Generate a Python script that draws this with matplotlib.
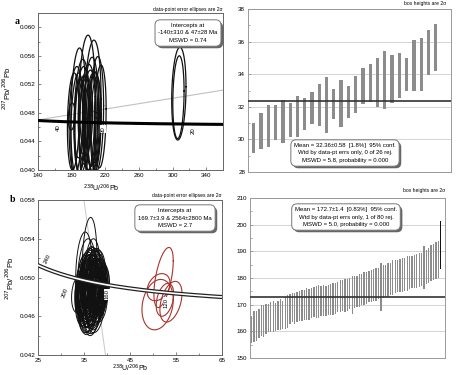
import numpy as np
import matplotlib
matplotlib.use("Agg")
import matplotlib.pyplot as plt
import matplotlib.patheffects as pe
from matplotlib.ticker import MultipleLocator, FormatStrFormatter

plt.rcParams['font.family'] = ['Liberation Sans', 'DejaVu Sans']

# ---- panel a: Tera-Wasserburg ellipses (238U/206Pb, 207Pb/206Pb, 2s half-axes)
a_x = [198, 205, 188, 210, 214, 192, 201, 185, 196, 207, 190, 203, 182, 180,
       199, 194, 209, 187, 204, 196, 193, 200, 189, 206, 307.5, 307]
a_y = [0.0488, 0.0485, 0.0480, 0.0478, 0.0475, 0.0475, 0.0470, 0.0470, 0.0468,
       0.0465, 0.0462, 0.0473, 0.0468, 0.0475, 0.0460, 0.0478, 0.0470, 0.0458,
       0.0470, 0.0482, 0.0465, 0.0475, 0.0472, 0.0468, 0.0507, 0.0502]
a_sx = [10, 10, 9, 8, 7, 9, 8, 8, 7, 8, 7, 9, 7, 4, 10, 6, 6, 8, 7, 6, 9, 5, 6, 7, 8.5, 6.7]
a_sy = [0.0101, 0.0097, 0.0091, 0.0081, 0.0072, 0.0080, 0.0070, 0.0075, 0.0060,
        0.0072, 0.0065, 0.0085, 0.0068, 0.0019, 0.0088, 0.0055, 0.0060, 0.0078,
        0.0065, 0.0050, 0.0080, 0.0045, 0.0055, 0.0070, 0.0065, 0.0058]
a_rho = 0.15
a_intercepts = [-140, 47]          # Ma
a_ticks_age = [40, 30, 20]
a_xticks = [140, 180, 220, 260, 300, 340]
a_yticks = [0.040, 0.044, 0.048, 0.052, 0.056, 0.060]

# ---- panel b
b_x = [36.2, 35.0, 35.6, 36.8, 37.5, 36.0, 35.3, 37.9, 36.6, 38.2,
       35.8, 37.1, 36.4, 34.8, 38.5, 37.3, 35.5, 36.9, 37.7, 36.1,
       35.2, 38.0, 36.7, 37.4, 35.9, 34.6, 38.7, 36.3, 37.0, 35.4,
       37.8, 36.5, 35.7, 38.3, 36.8, 37.2, 34.9, 36.0, 38.9, 37.6,
       35.1, 36.4, 37.9, 36.2, 35.6, 38.1, 37.0, 36.6, 35.3, 37.5,
       36.9, 34.4, 38.4, 36.1, 37.3, 35.8, 36.7, 38.6, 35.0, 37.1,
       33.6, 36.3, 37.7, 35.5, 38.0, 36.5, 37.4, 35.9, 36.8, 39.0]
b_y = [0.0515, 0.0505, 0.0500, 0.0505, 0.0498, 0.0492, 0.0488, 0.0500, 0.0495, 0.0490,
       0.0485, 0.0493, 0.0502, 0.0490, 0.0495, 0.0485, 0.0478, 0.0488, 0.0492, 0.0480,
       0.0495, 0.0485, 0.0482, 0.0500, 0.0475, 0.0485, 0.0488, 0.0495, 0.0478, 0.0482,
       0.0480, 0.0490, 0.0470, 0.0495, 0.0472, 0.0505, 0.0478, 0.0485, 0.0492, 0.0488,
       0.0492, 0.0475, 0.0478, 0.0498, 0.0490, 0.0482, 0.0485, 0.0468, 0.0480, 0.0492,
       0.0495, 0.0482, 0.0478, 0.0490, 0.0475, 0.0495, 0.0488, 0.0483, 0.0478, 0.0498,
       0.0482, 0.0480, 0.0488, 0.0465, 0.0500, 0.0485, 0.0470, 0.0493, 0.0480, 0.0490]
b_sx = [1.6, 1.8, 2.0, 1.7, 1.9, 2.2, 1.6, 1.8, 2.1, 1.7,
        1.9, 2.0, 1.5, 1.7, 1.6, 2.1, 1.9, 1.8, 2.0, 2.3,
        1.7, 1.9, 1.6, 1.8, 2.2, 1.5, 1.6, 2.0, 1.9, 1.7,
        1.8, 2.1, 1.6, 1.7, 2.0, 1.5, 1.8, 2.3, 1.6, 1.9,
        1.7, 2.0, 1.8, 1.6, 1.9, 1.7, 2.1, 1.8, 2.0, 1.6,
        1.9, 1.4, 1.7, 2.2, 1.8, 1.6, 2.0, 1.5, 1.7, 1.9,
        1.3, 2.1, 1.8, 1.7, 1.6, 1.9, 2.0, 1.8, 1.6, 1.5]
b_sy = [0.0047, 0.0042, 0.0040, 0.0035, 0.0032, 0.0038, 0.0030, 0.0028, 0.0036, 0.0025,
        0.0033, 0.0027, 0.0030, 0.0026, 0.0024, 0.0035, 0.0030, 0.0028, 0.0026, 0.0036,
        0.0030, 0.0025, 0.0032, 0.0027, 0.0034, 0.0024, 0.0022, 0.0029, 0.0031, 0.0028,
        0.0026, 0.0033, 0.0027, 0.0023, 0.0030, 0.0025, 0.0028, 0.0036, 0.0022, 0.0029,
        0.0031, 0.0027, 0.0025, 0.0030, 0.0033, 0.0024, 0.0030, 0.0028, 0.0026, 0.0027,
        0.0029, 0.0022, 0.0024, 0.0034, 0.0029, 0.0031, 0.0027, 0.0023, 0.0028, 0.0030,
        0.0018, 0.0032, 0.0026, 0.0022, 0.0024, 0.0030, 0.0027, 0.0025, 0.0029, 0.0022]
b_rho = 0.15
red_x = [52.3, 51.0, 51.2, 53.9, 52.6]
red_y = [0.0500, 0.0472, 0.0490, 0.0475, 0.0477]
red_sx = [2.1, 3.4, 2.5, 2.4, 1.9]
red_sy = [0.0031, 0.0026, 0.0014, 0.0021, 0.0017]
red_rho = [0.55, 0.2, 0.3, 0.4, 0.35]
b_intercepts = [169.7, 2564]
b_ticks_age = [240, 200, 160, 120]
b_xticks = [25, 35, 45, 55, 65]
b_yticks = [0.042, 0.046, 0.050, 0.054, 0.058]

# ---- weighted mean panels (2s boxes)
c_lo = [29.17, 29.40, 29.54, 29.99, 29.75, 30.16, 30.16, 30.57, 30.94, 30.81, 30.40, 31.24, 30.77,
        31.33, 31.59, 32.15, 32.27, 31.96, 31.84, 32.21, 32.56, 32.97, 32.97, 32.97, 33.93, 34.20]
c_hi = [31.02, 31.63, 32.11, 32.11, 32.41, 32.21, 32.66, 32.52, 32.89, 33.38, 33.81, 33.07, 33.65,
        33.28, 33.89, 34.39, 34.61, 35.00, 35.45, 35.15, 35.33, 34.98, 36.11, 36.23, 36.71, 37.08]
c_mean = 32.36

d_age = [160.6, 161.8, 162.1, 162.9, 164.1, 164.0, 164.6, 165.0, 165.3, 165.6,
         165.4, 166.0, 166.3, 166.2, 166.8, 167.6, 168.5, 168.9, 168.7, 169.2,
         169.4, 169.6, 169.9, 170.3, 170.1, 170.6, 170.9, 171.0, 171.2, 171.4,
         171.5, 171.4, 171.8, 172.0, 172.2, 172.3, 172.8, 173.2, 173.5, 173.4,
         173.8, 174.1, 173.6, 174.6, 175.0, 175.3, 175.6, 176.2, 176.4, 176.8,
         177.0, 177.3, 177.5, 178.0, 176.5, 178.6, 178.9, 179.2, 179.6, 180.2,
         180.5, 180.8, 181.0, 181.1, 181.3, 181.7, 181.9, 182.2, 182.4, 182.6,
         182.9, 183.3, 184.0, 184.2, 184.8, 185.6, 186.0, 186.5, 186.9, 192.5]
d_err = [5.0, 5.8, 5.6, 5.4, 5.7, 6.0, 5.5, 5.2, 5.6, 5.8,
         5.4, 5.5, 5.7, 5.2, 5.9, 6.2, 5.6, 5.5, 5.8, 5.6,
         5.7, 5.9, 5.5, 6.0, 5.8, 5.6, 5.7, 5.9, 6.1, 5.5,
         5.8, 5.6, 5.7, 5.9, 6.0, 5.8, 5.6, 5.9, 5.7, 6.2,
         6.0, 5.8, 7.2, 6.0, 5.9, 6.1, 5.8, 6.2, 6.0, 5.9,
         6.1, 6.0, 6.3, 5.9, 9.0, 6.2, 6.0, 6.3, 6.1, 6.4,
         6.2, 6.0, 6.3, 6.5, 6.1, 6.4, 6.2, 6.0, 6.3, 6.5,
         6.4, 6.2, 8.0, 6.3, 6.5, 6.6, 6.8, 6.9, 7.0, 9.0]
d_rejected = [79]
d_mean = 172.7

W, H = 458, 375
fig = plt.figure(figsize=(W / 100, H / 100), dpi=100)


def rect(l, t, r, b):
    return [l / W, 1 - b / H, (r - l) / W, (b - t) / H]


def px(x, y):
    return x / W, 1 - y / H


L238, L235, U85 = 1.55125e-4, 9.8485e-4, 137.88


def tw(t):
    t = np.asarray(t, float)
    e8 = np.expm1(L238 * t)
    e5 = np.expm1(L235 * t)
    return 1 / e8, e5 / e8 / U85


def ellipse(ax, x, y, sx, sy, rho, color, lw=0.8):
    th = np.linspace(0, 2 * np.pi, 120)
    ex = x + sx * np.cos(th)
    ey = y + sy * (rho * np.cos(th) + np.sqrt(1 - rho ** 2) * np.sin(th))
    ax.plot(ex, ey, color=color, lw=lw, zorder=3)


def note(x, y, s):
    t = fig.text(*px(x, y), s, ha='center', va='center', fontsize=4.3, linespacing=1.6,
                 zorder=10,
                 bbox=dict(boxstyle='round,pad=0.55,rounding_size=0.9', fc='white', ec='#777', lw=0.7))
    t.get_bbox_patch().set_path_effects([
        pe.SimplePatchShadow(offset=(1.5, -1.5), shadow_rgbFace='#666', alpha=1), pe.Normal()])


def style_left(ax):
    for s in ax.spines.values():
        s.set_color('#666')
        s.set_linewidth(0.7)
    ax.tick_params(which='both', direction='in', labelsize=4.5, width=0.5, color='#555', pad=2)
    ax.tick_params(which='major', length=2.5)
    ax.tick_params(which='minor', length=1.5)


def style_right(ax):
    for s in ax.spines.values():
        s.set_color('#999')
        s.set_linewidth(0.7)
    ax.set_xticks([])
    ax.tick_params(which='both', direction='in', labelsize=4.5, width=0.5, color='#888', pad=2)
    ax.tick_params(which='major', length=2.5)
    ax.tick_params(which='minor', length=1.5)
    ax.grid(True, axis='y', color='#d4d4d4', lw=0.7)
    ax.set_axisbelow(True)


ylab = r'$^{207}$Pb/$^{206}$Pb'
xlab = r'$^{238}$U/$^{206}$Pb'

# ---------------- panel a
ax1 = fig.add_axes(rect(38, 13, 223, 170))
ax1.set_xlim(140, 360)
ax1.set_ylim(0.040, 0.062)
xi, yi = tw(a_intercepts)
xs = np.array([140, 360])
ax1.plot(xs, yi[1] + (yi[1] - yi[0]) / (xi[1] - xi[0]) * (xs - xi[1]), color='#c0c0c0', lw=0.8, zorder=2)
for i in range(len(a_x)):
    ellipse(ax1, a_x[i], a_y[i], a_sx[i], a_sy[i], a_rho, '#111', 0.9)
cx, cy = tw(np.linspace(15, 55, 200))
ax1.plot(cx, cy, color='black', lw=2.2, zorder=4)
for age in a_ticks_age:
    tx, ty = tw(age)
    ax1.text(tx + 3, ty - 0.0009, str(age), rotation=90, fontsize=4.3, ha='center', va='center',
             zorder=5, bbox=dict(fc='white', ec='none', pad=0.3))
ax1.set_xticks(a_xticks)
ax1.xaxis.set_minor_locator(MultipleLocator(20))
ax1.set_yticks(a_yticks)
ax1.yaxis.set_minor_locator(MultipleLocator(0.002))
ax1.yaxis.set_major_formatter(FormatStrFormatter('%.3f'))
style_left(ax1)

# ---------------- panel b
ax3 = fig.add_axes(rect(38, 200, 222, 355))
ax3.set_xlim(25, 65)
ax3.set_ylim(0.042, 0.058)
xi, yi = tw(b_intercepts)
xs = np.array([20, 45])
ax3.plot(xs, yi[0] + (yi[1] - yi[0]) / (xi[1] - xi[0]) * (xs - xi[0]), color='#c8c8c8', lw=0.7, zorder=2)
for i in range(len(b_x)):
    ellipse(ax3, b_x[i], b_y[i], b_sx[i], b_sy[i], b_rho, '#111', 0.7)
for i in range(len(red_x)):
    ellipse(ax3, red_x[i], red_y[i], red_sx[i], red_sy[i], red_rho[i], '#a8332e', 0.8)
cx, cy = tw(np.linspace(80, 300, 300))
ax3.plot(cx, cy, color='#222', lw=3.0, zorder=4)
ax3.plot(cx, cy, color='white', lw=1.2, zorder=4)
lab_off = {240: (0.6, 0.0009, 65), 200: (-0.9, -0.0017, 70), 160: (0.2, -0.0010, 90), 120: (-0.4, -0.0010, 90)}
for age in b_ticks_age:
    tx, ty = tw(age)
    dx, dy, rot = lab_off[age]
    ax3.text(tx + dx, ty + dy, str(age), rotation=rot, fontsize=4.3, ha='center', va='center',
             zorder=5, bbox=dict(fc='white', ec='none', pad=0.3))
ax3.set_xticks(b_xticks)
ax3.xaxis.set_minor_locator(MultipleLocator(5))
ax3.set_yticks(b_yticks)
ax3.yaxis.set_minor_locator(MultipleLocator(0.002))
ax3.yaxis.set_major_formatter(FormatStrFormatter('%.3f'))
style_left(ax3)

# ---------------- top right weighted mean
ax2 = fig.add_axes(rect(248, 9, 451, 172))
n = np.arange(1, len(c_lo) + 1)
ax2.bar(n, np.array(c_hi) - np.array(c_lo), bottom=c_lo, width=0.45, color='#8c8c8c', zorder=2)
ax2.axhline(c_mean, color='#333', lw=1.2, zorder=3)
ax2.set_xlim(0.2, 28.1)
ax2.set_ylim(28, 38)
ax2.yaxis.set_major_locator(MultipleLocator(2))
ax2.yaxis.set_minor_locator(MultipleLocator(1))
style_right(ax2)

# ---------------- bottom right weighted mean
ax4 = fig.add_axes(rect(250, 198, 445, 358))
m = np.arange(1, len(d_age) + 1)
colors = ['#111' if i in d_rejected else '#8c8c8c' for i in range(len(d_age))]
ax4.bar(m, 2 * np.array(d_err), bottom=np.array(d_age) - np.array(d_err), width=0.55,
        color=colors, zorder=2)
ax4.axhline(d_mean, color='#333', lw=1.2, zorder=3)
ax4.set_xlim(0.3, 81.8)
ax4.set_ylim(150, 210)
ax4.yaxis.set_major_locator(MultipleLocator(10))
ax4.yaxis.set_minor_locator(MultipleLocator(5))
style_right(ax4)

# ---------------- texts
fig.text(*px(17, 22), 'a', fontsize=7, fontweight='bold', family='Liberation Serif', ha='center', va='center')
fig.text(*px(13, 200), 'b', fontsize=7, fontweight='bold', family='Liberation Serif', ha='center', va='center')
fig.text(*px(223, 10), 'data-point error ellipses are 2\u03c3', fontsize=3.6, ha='right', va='center')
fig.text(*px(222, 196), 'data-point error ellipses are 2\u03c3', fontsize=3.6, ha='right', va='center')
fig.text(*px(446, 3.5), 'box heights are 2\u03c3', fontsize=3.6, ha='right', va='center')
fig.text(*px(445, 190), 'box heights are 2\u03c3', fontsize=3.6, ha='right', va='center')
fig.text(*px(7, 88), ylab, rotation=90, fontsize=5.5, ha='center', va='center')
fig.text(*px(10, 278), ylab, rotation=90, fontsize=5.5, ha='center', va='center')
fig.text(*px(101, 188), xlab, fontsize=5, ha='center', va='center')
fig.text(*px(130, 368.5), xlab, fontsize=5, ha='center', va='center')

note(188, 33, 'Intercepts at\n-140\u00b1310 & 47\u00b128 Ma\nMSWD = 0.74')
note(175, 218, 'Intercepts at\n169.7\u00b13.9 & 2564\u00b12800 Ma\nMSWD = 2.7')
note(345, 153, 'Mean = 32.36\u00b10.58  [1.8%]  95% conf.\nWtd by data-pt errs only, 0 of 26 rej.\nMSWD = 5.8, probability = 0.000')
note(346, 217, 'Mean = 172.7\u00b11.4  [0.83%]  95% conf.\nWtd by data-pt errs only, 1 of 80 rej.\nMSWD = 5.0, probability = 0.000')

fig.savefig('out.png', dpi=100)
